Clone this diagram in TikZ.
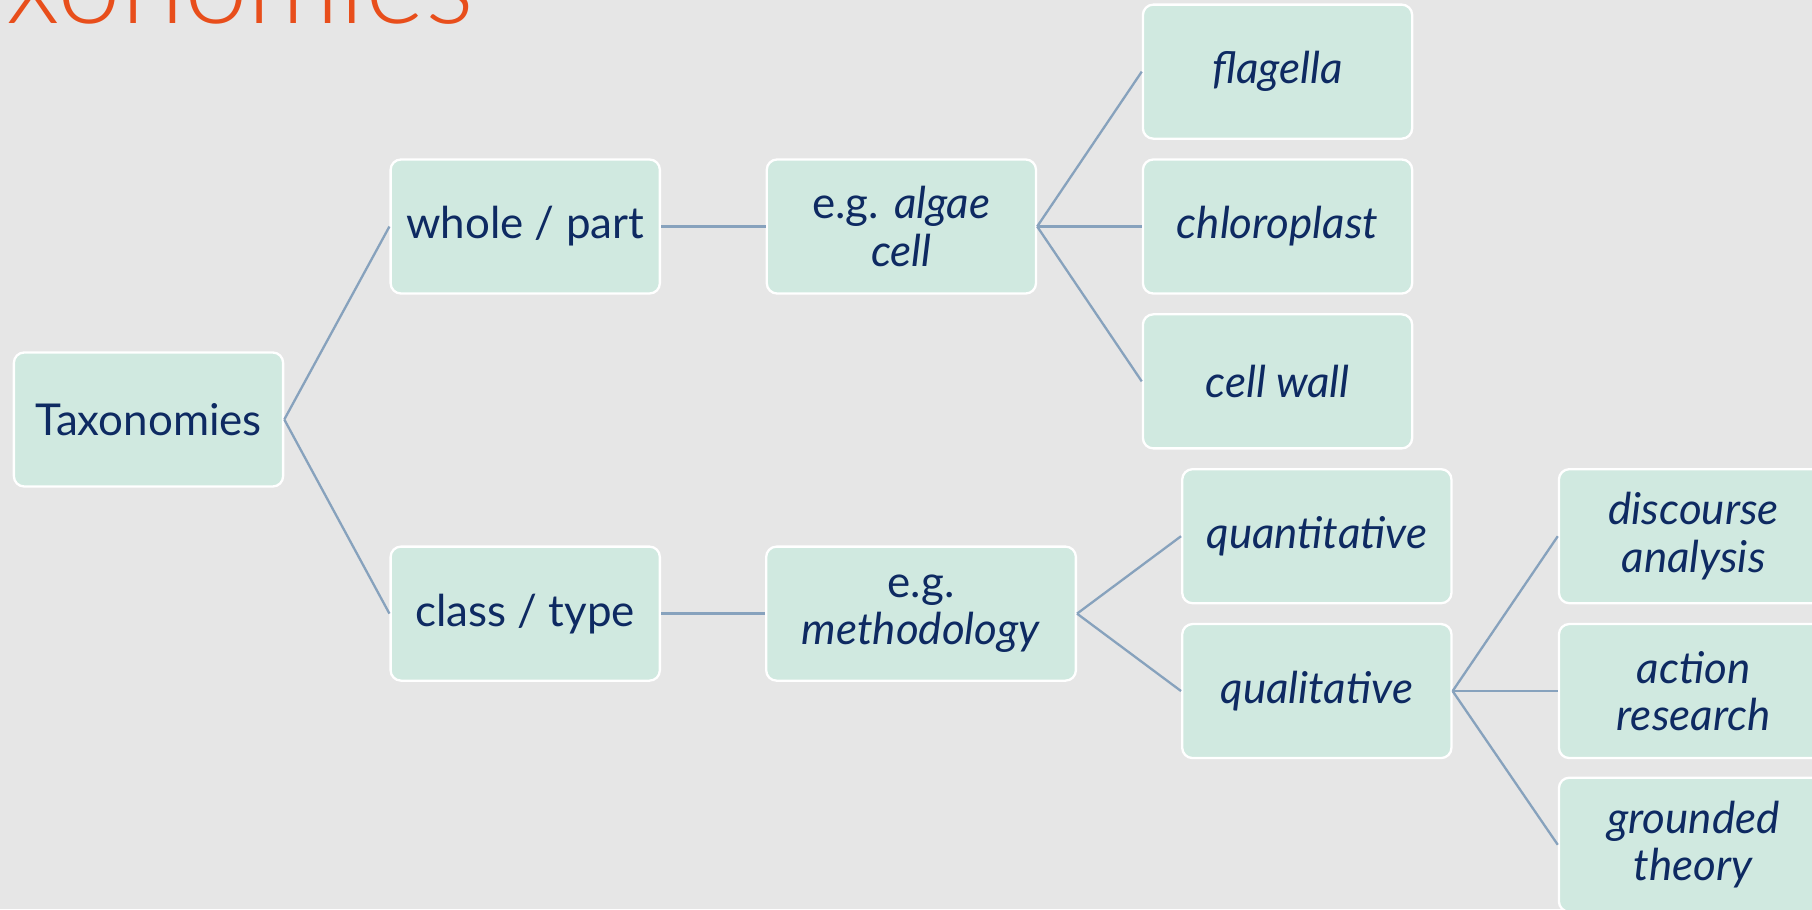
\documentclass[tikz,border=0pt]{standalone}
\usepackage{fontspec}
\setmainfont{Lato}
\newfontfamily\titlefont{Lato Light}
\definecolor{bg}{HTML}{E6E6E6}
\definecolor{boxfill}{HTML}{D0E9E0}
\definecolor{txt}{HTML}{0E2A62}
\definecolor{conn}{HTML}{87A2BD}
\definecolor{ttl}{HTML}{E84E1B}
\begin{document}
\begin{tikzpicture}[x=1pt,y=-1pt,
  tbox/.style={rectangle, rounded corners=9pt, fill=boxfill, draw=white, line width=2pt,
    minimum width=233pt, minimum height=116pt, inner sep=0pt, align=center, text=txt,
    font=\fontsize{38}{41}\selectfont},
  link/.style={draw=conn, line width=2pt}]
\useasboundingbox[fill=bg] (0,0) rectangle (1568,787);
\node[anchor=base west, text=ttl, inner sep=0pt, font=\titlefont\fontsize{99}{100}\selectfont] (title) at (5,20) {xonomies};
\node[tbox] (tax) at (128.5,363) {Taxonomies};
\node[tbox] (whole) at (454.5,196) {whole / part};
\node[tbox] (class) at (454.5,531) {class / type};
\node[tbox] (algae) at (780,196) {e.g. \textit{algae}\\\textit{cell}};
\node[tbox, minimum width=268pt] (meth) at (797,531) {e.g.\\\textit{methodology}};
\node[tbox] (flag) at (1105.5,62) {\textit{flagella}};
\node[tbox] (chloro) at (1105.5,196) {\textit{chloroplast}};
\node[tbox] (wall) at (1105.5,330) {\textit{cell wall}};
\node[tbox] (quant) at (1139.5,464) {\textit{quantitative}};
\node[tbox] (qual) at (1139.5,598) {\textit{qualitative}};
\node[tbox] (disc) at (1465.5,464) {\textit{discourse}\\\textit{analysis}};
\node[tbox] (action) at (1465.5,598) {\textit{action}\\\textit{research}};
\node[tbox] (ground) at (1465.5,731) {\textit{grounded}\\\textit{theory}};
\draw[link] (tax.east) -- (whole.west);
\draw[link] (tax.east) -- (class.west);
\draw[link] (whole.east) -- (algae.west);
\draw[link] (class.east) -- (meth.west);
\draw[link] (algae.east) -- (flag.west);
\draw[link] (algae.east) -- (chloro.west);
\draw[link] (algae.east) -- (wall.west);
\draw[link] (meth.east) -- (quant.west);
\draw[link] (meth.east) -- (qual.west);
\draw[link] (qual.east) -- (disc.west);
\draw[link] (qual.east) -- (action.west);
\draw[link] (qual.east) -- (ground.west);
\end{tikzpicture}
\end{document}
